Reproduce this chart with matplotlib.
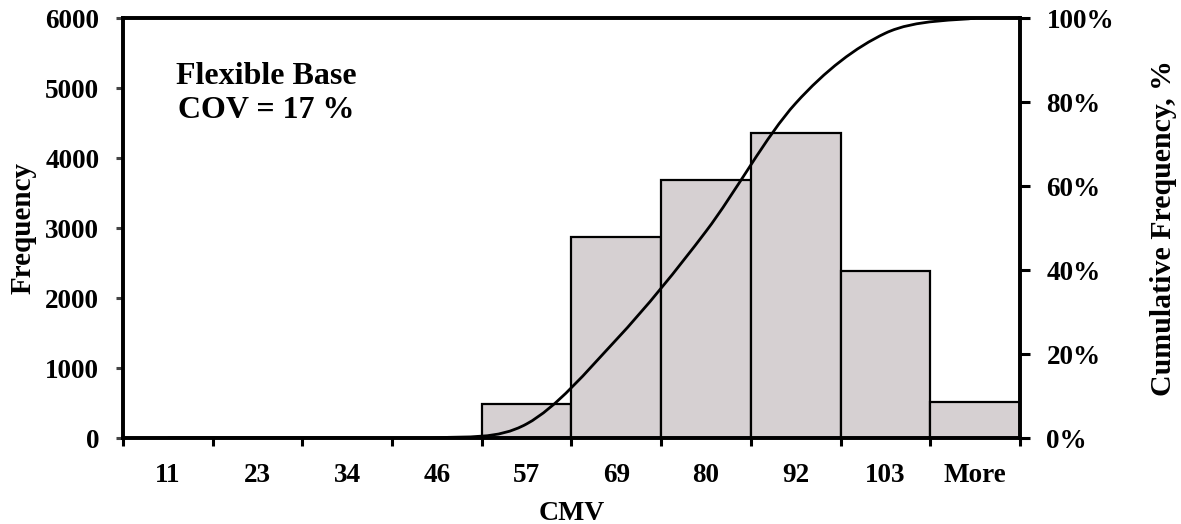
import numpy as np
import matplotlib
matplotlib.use("Agg")
import matplotlib.pyplot as plt
from matplotlib.path import Path
from matplotlib.patches import PathPatch
from matplotlib.ticker import FixedLocator, PercentFormatter

# ---- data ----
categories = ['11', '23', '34', '46', '57', '69', '80', '92', '103', 'More']
frequency = [0, 0, 0, 0, 480, 2870, 3690, 4360, 2385, 515]
y_ticks = [0, 1000, 2000, 3000, 4000, 5000, 6000]
pct_ticks = [0, 20, 40, 60, 80, 100]

plt.rcParams['font.family'] = ['Liberation Serif', 'DejaVu Serif']
plt.rcParams['font.weight'] = 'bold'

fig = plt.figure(figsize=(11.81, 5.24), dpi=100)
ax = fig.add_axes([0.1041, 0.1641, 0.7596, 0.8015])

x = np.arange(len(categories))
ax.bar(x, frequency, width=1.0, color='#d6d0d2', edgecolor='black', linewidth=1.6, zorder=2)

ax.set_xlim(-0.5, len(categories) - 0.5)
ax.set_ylim(0, 6000)
ax.set_yticks(y_ticks)
ax.set_xticks(x)
ax.set_xticklabels(categories)
ax.xaxis.set_minor_locator(FixedLocator(np.arange(len(categories) + 1) - 0.5))
ax.tick_params(axis='x', which='major', length=0, pad=18, labelsize=19.5)
ax.tick_params(axis='x', which='minor', length=6, width=2.2, direction='out', color='black')
ax.tick_params(axis='y', which='major', length=5, width=2.2, direction='out', pad=12,
               labelsize=19.5, color='#444444')
for s in ax.spines.values():
    s.set_linewidth(2.6)
    s.set_color('black')
ax.set_xlabel('CMV', fontsize=20, fontweight='bold', labelpad=9)
ax.set_ylabel('Frequency', fontsize=21, fontweight='bold', labelpad=6)

# cumulative frequency (%)
freq = np.array(frequency, dtype=float)
cum = np.cumsum(freq) / freq.sum() * 100.0

ax2 = ax.twinx()
ax2.set_ylim(0, 100)
ax2.set_yticks(pct_ticks)
ax2.yaxis.set_major_formatter(PercentFormatter(decimals=0))
ax2.tick_params(axis='y', length=7, width=2.2, direction='out', pad=12, labelsize=19.5)
for s in ax2.spines.values():
    s.set_linewidth(2.6)
    s.set_color('black')
ax2.set_ylabel('Cumulative Frequency, %', fontsize=21.5, fontweight='bold', labelpad=26)

# smoothed line (Catmull-Rom style Bezier, like spreadsheet smoothing)
P = np.column_stack([x.astype(float), cum])
n = len(P)
verts = [tuple(P[0])]
codes = [Path.MOVETO]
for i in range(n - 1):
    p0 = P[i - 1] if i > 0 else P[i]
    p1 = P[i]
    p2 = P[i + 1]
    p3 = P[i + 2] if i + 2 < n else P[i + 1]
    c1 = p1 + (p2 - p0) / 6.0
    c2 = p2 - (p3 - p1) / 6.0
    verts += [tuple(c1), tuple(c2), tuple(p2)]
    codes += [Path.CURVE4, Path.CURVE4, Path.CURVE4]
ax2.add_patch(PathPatch(Path(verts, codes), facecolor='none', edgecolor='black',
                        linewidth=2.0, zorder=3))

ax.text(0.16, 0.82, 'Flexible Base\nCOV = 17 %', transform=ax.transAxes,
        ha='center', va='center', fontsize=23, fontweight='bold', linespacing=1.25)

fig.savefig('out.png', dpi=100)
